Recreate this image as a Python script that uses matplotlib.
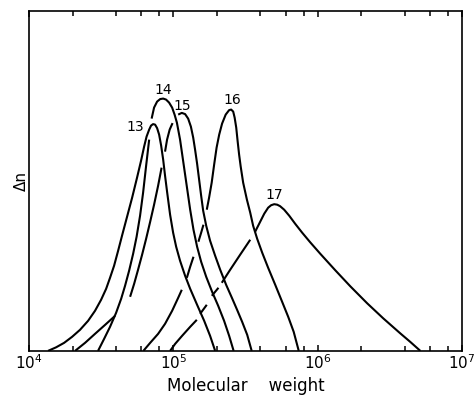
import numpy as np
import matplotlib.pyplot as plt
from matplotlib.ticker import LogLocator, NullFormatter

nan = np.nan

# log10(molecular weight) and delta-n (arbitrary units) for fractions 13-17
# nan = pen lifted where one curve crosses another
logm13 = [4.132, 4.187, 4.243, 4.298, 4.353, 4.409, 4.457, 4.499, 4.534, 4.561,
          4.589, 4.617, 4.644, 4.679, 4.714, 4.748, 4.776, 4.797, 4.814, 4.832,
          4.845, 4.859, 4.873, 4.887, 4.901, 4.915, 4.929, 4.942, 4.956, 4.977,
          4.998, 5.019, 5.046, 5.081, 5.116, 5.164, 5.213, 5.254, 5.289]
dn13 = [0, 3.5, 8, 14, 21, 30, 40, 51, 62, 73,
        85, 100, 115, 134, 153, 173, 190, 204, 214, 221,
        225, 226.5, 226, 222.5, 216, 205, 191, 175, 159, 136,
        118, 104, 90, 75, 62, 46, 30, 15, 0]

logm14 = [4.478, 4.520, 4.561, 4.603, 4.638, 4.665, 4.693, 4.721, 4.745, 4.769,
          4.790, 4.811, 4.832, nan,
          4.849, 4.866, 4.887, 4.908, 4.929, 4.949, 4.970, 4.991, 5.008, 5.024,
          5.046, 5.069, 5.093, 5.116, 5.139, 5.164, 5.192, 5.227, 5.268, 5.310,
          5.351, 5.386, 5.417]
dn14 = [0, 12, 24, 38, 52, 65, 80, 97, 114, 135,
        158, 185, 211, nan,
        232, 243, 249, 251.5, 252, 251, 248, 243, 236, 228,
        211, 188, 164, 141, 121, 104, 89, 74, 59, 45,
        30, 15, 0]

logm15 = [4.319, 4.388, 4.457, 4.527, 4.596, nan,
          4.700, 4.728, 4.755, 4.783, 4.811, 4.839, 4.866, 4.894, 4.918, nan,
          4.942, 4.956, 4.974, 4.994, nan,
          5.033, 5.058, 5.081, 5.102, 5.121, 5.137, 5.150, 5.164, 5.178, 5.192,
          5.206, 5.227, 5.254, 5.289, 5.324, 5.365, 5.405, 5.441, 5.476, 5.511,
          5.542]
dn15 = [0, 8, 17, 26, 35, nan,
        54, 67, 81, 96, 112, 129, 146, 165, 183, nan,
        199, 211, 221, 227.5, nan,
        236, 237.7, 236.5, 232, 224, 213, 201, 187, 171, 155,
        140, 125, 110, 95, 81, 66, 53, 41, 29, 16,
        0]

logm16 = [4.792, 4.839, 4.894, 4.942, 4.991, 5.033, 5.058, nan,
          5.093, 5.116, 5.139, nan,
          5.173, 5.192, 5.208, nan,
          5.231, 5.247, 5.265, 5.282, 5.299, 5.317, 5.337, 5.362, 5.386, 5.400,
          5.414, 5.424, 5.435, 5.445, 5.455, 5.466, 5.483, 5.509, 5.532, 5.552,
          5.580, 5.615, 5.656, 5.705, 5.753, 5.795, 5.833, 5.868]
dn16 = [0, 8, 17, 27, 40, 53, 61, nan,
        73, 84, 94, nan,
        109, 118, 126, nan,
        141, 153, 168, 186, 203, 216, 227, 236, 240.5, 241,
        239, 233, 223, 209, 196, 184, 168, 151, 138, 125,
        112, 98, 83, 66, 49, 34, 19, 0]

logm17 = [4.977, 5.012, 5.060, 5.116, 5.162, nan,
          5.185, 5.231, nan,
          5.266, 5.312, nan,
          5.335, 5.393, 5.462, 5.532, nan,
          5.566, 5.601, 5.629, 5.656, 5.677, 5.698, 5.719, 5.739, 5.767, 5.802,
          5.843, 5.892, 5.947, 6.017, 6.121, 6.225, 6.342, 6.453, 6.571, 6.640,
          6.710]
dn17 = [0, 7, 15, 24, 31, nan,
        37, 46, nan,
        55, 63, nan,
        68, 81, 96, 111, nan,
        119, 129, 137, 143, 145.5, 146.5, 146, 144.5, 141, 135,
        127, 118, 108.5, 97, 80.5, 64.5, 47.5, 32.5, 17.5, 9,
        0]

labels = ['13', '14', '15', '16', '17']
label_logm = [4.735, 4.927, 5.058, 5.405, 5.698]
label_dn = [224, 261, 245, 251, 156]

curves = [(logm13, dn13), (logm14, dn14), (logm15, dn15),
          (logm16, dn16), (logm17, dn17)]

fig = plt.figure(figsize=(4.76, 3.96), dpi=100)
ax = fig.add_axes([0.061, 0.114, 0.910, 0.857])

for logm, dn in curves:
    ax.plot(10 ** np.array(logm), dn, color='black', lw=1.5,
            solid_capstyle='butt', solid_joinstyle='round')

for lab, lm, d in zip(labels, label_logm, label_dn):
    ax.text(10 ** lm, d, lab, ha='center', va='center', fontsize=10)

ax.set_xscale('log')
ax.set_xlim(1e4, 1e7)
ax.set_ylim(0, 339)

ax.set_xticks([1e4, 1e5, 1e6, 1e7])
ax.set_xticklabels(['$10^4$', '$10^5$', '$10^6$', '$10^7$'], fontsize=11)
ax.xaxis.set_minor_locator(LogLocator(base=10, subs=(2, 4, 6, 8)))
ax.xaxis.set_minor_formatter(NullFormatter())
ax.tick_params(axis='x', which='both', direction='in', top=True,
               width=1.1, pad=2)
ax.tick_params(axis='x', which='major', length=4)
ax.tick_params(axis='x', which='minor', length=3.5)
ax.set_yticks([])

for s in ax.spines.values():
    s.set_linewidth(1.2)

ax.set_xlabel('Molecular    weight', fontsize=12, labelpad=3)
ax.set_ylabel('Δn', fontsize=11, labelpad=0)

fig.savefig('out.png', dpi=100)
